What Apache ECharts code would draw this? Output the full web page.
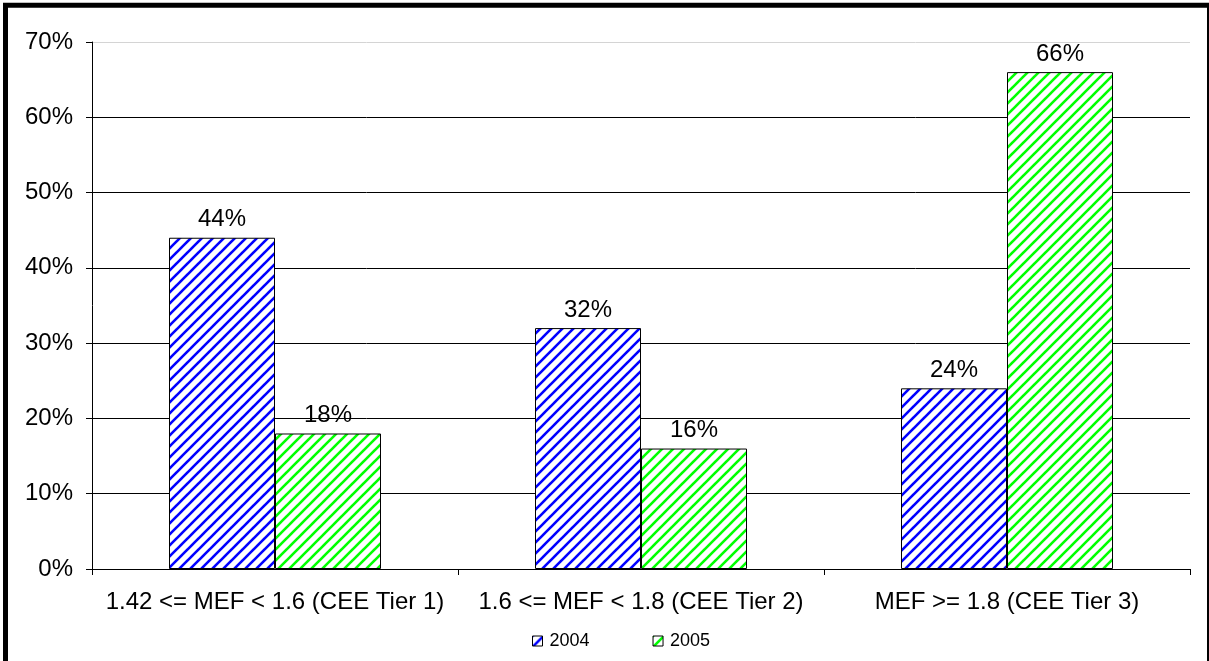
<!DOCTYPE html>
<html>
<head>
<meta charset="utf-8">
<title>MEF tiers 2004 vs 2005</title>
<script src="https://cdn.jsdelivr.net/npm/echarts@6/dist/echarts.min.js"></script>
<style>
  html, body { margin: 0; padding: 0; background: #fff; }
  #chart { width: 1209px; height: 661px; }
</style>
</head>
<body>
<div id="chart"></div>
<script>
// Share of units in each efficiency tier
const categories = [
  '1.42 <= MEF < 1.6 (CEE Tier 1)',
  '1.6 <= MEF < 1.8 (CEE Tier 2)',
  'MEF >= 1.8 (CEE Tier 3)'
];
const seriesNames = ['2004', '2005'];
const values2004 = [44, 32, 24];
const values2005 = [18, 16, 66];
const yTicks = [0, 10, 20, 30, 40, 50, 60, 70];

const FONT = '"Liberation Sans", Arial, Helvetica, sans-serif';

// Diagonal hatch tile: coloured "/" stripes on white
function hatch(color, size, width) {
  const c = document.createElement('canvas');
  c.width = size; c.height = size;
  const g = c.getContext('2d');
  g.fillStyle = '#fff';
  g.fillRect(0, 0, size, size);
  g.strokeStyle = color;
  g.lineWidth = width;
  g.lineCap = 'square';
  for (const o of [-size, 0, size]) {
    g.beginPath();
    g.moveTo(o, size);
    g.lineTo(o + size, 0);
    g.stroke();
  }
  return { image: c, repeat: 'repeat' };
}

const chart = echarts.init(document.getElementById('chart'), null, { renderer: 'canvas' });

const gridColors = yTicks.map((v, i) => i === yTicks.length - 1 ? '#d4d4d4' : '#000');

function barSeries(name, data, color) {
  return {
    name: name,
    type: 'bar',
    data: data,
    barWidth: 106,
    barGap: '0%',
    itemStyle: { color: hatch(color, 11, 2.6), borderColor: '#000', borderWidth: 1 },
    label: {
      show: true,
      position: 'top',
      distance: 6,
      formatter: p => p.value + '%',
      color: '#000',
      fontFamily: FONT,
      fontSize: 24
    },
    emphasis: { disabled: true },
    animation: false
  };
}

chart.setOption({
  backgroundColor: '#fff',
  animation: false,
  grid: { left: 92, right: 19, top: 42, bottom: 92, containLabel: false },
  legend: {
    data: seriesNames,
    icon: 'rect',
    left: 527,
    top: 627,
    itemWidth: 10,
    itemHeight: 10,
    itemGap: 63,
    textStyle: { fontFamily: FONT, fontSize: 18, color: '#000', padding: [0, 0, 0, 2] },
    itemStyle: { borderColor: '#000', borderWidth: 1 }
  },
  xAxis: {
    type: 'category',
    data: categories,
    axisLine: { show: true, lineStyle: { color: '#000', width: 1 } },
    axisTick: { show: true, length: 6, lineStyle: { color: '#000' } },
    axisLabel: { margin: 21, fontFamily: FONT, fontSize: 24, color: '#000', interval: 0 },
    splitLine: { show: false }
  },
  yAxis: {
    type: 'value',
    min: yTicks[0],
    max: yTicks[yTicks.length - 1],
    interval: 10,
    axisLine: { show: true, lineStyle: { color: '#000', width: 1 } },
    axisTick: { show: true, length: 6, lineStyle: { color: '#000' } },
    axisLabel: { margin: 19, fontFamily: FONT, fontSize: 24, color: '#000', formatter: v => v + '%' },
    splitLine: { show: true, lineStyle: { color: gridColors, width: 1 } }
  },
  series: [
    barSeries(seriesNames[0], values2004, '#0000ff'),
    barSeries(seriesNames[1], values2005, '#00ff00')
  ],
  graphic: [{
    type: 'rect',
    silent: true,
    z: 100,
    shape: { x: 5.5, y: 5.25, width: 1204, height: 700 },
    style: { fill: null, stroke: '#000', lineWidth: 5 }
  }]
});
</script>
</body>
</html>
